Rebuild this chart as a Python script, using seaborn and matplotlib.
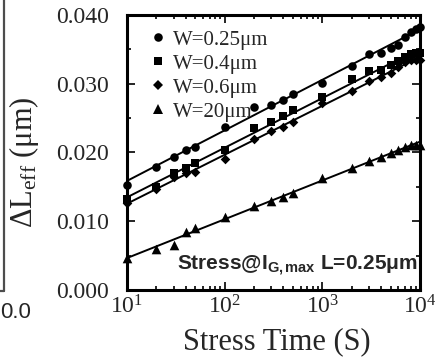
import pandas as pd
import matplotlib.pyplot as plt
import seaborn as sns
from matplotlib.lines import Line2D
from matplotlib.ticker import MultipleLocator, FormatStrFormatter, LogLocator

# Stress time (s) and measured Delta L_eff (um) for each gate width
stress_time = [10, 20, 30, 40, 50, 100, 200, 300, 400, 500,
               1000, 2000, 3000, 4000, 5000, 6000, 7000, 8000, 9000, 10000]
dl_w025 = [0.0153, 0.0179, 0.0194, 0.0204, 0.0208, 0.0237, 0.0266, 0.0269, 0.0276, 0.0285,
           0.0301, 0.0326, 0.0343, 0.0345, 0.0352, 0.0356, 0.0368, 0.0375, 0.0380, 0.0383]
dl_w04 = [0.0132, 0.0150, 0.0170, 0.0177, 0.0185, 0.0204, 0.0236, 0.0244, 0.0253, 0.0262,
          0.0281, 0.0307, 0.0319, 0.0320, 0.0327, 0.0333, 0.0339, 0.0343, 0.0345, 0.0345]
dl_w06 = [0.0127, 0.0147, 0.0164, 0.0170, 0.0172, 0.0190, 0.0220, 0.0231, 0.0237, 0.0244,
          0.0272, 0.0289, 0.0304, 0.0310, 0.0316, 0.0324, 0.0332, 0.0335, 0.0335, 0.0335]
dl_w20 = [0.0047, 0.0060, 0.0065, 0.0084, 0.0090, 0.0106, 0.0122, 0.0130, 0.0135, 0.0141,
          0.0163, 0.0177, 0.0188, 0.0193, 0.0199, 0.0204, 0.0208, 0.0211, 0.0211, 0.0211]

width_labels = ['W=0.25μm', 'W=0.4μm', 'W=0.6μm', 'W=20μm']
series = [dl_w025, dl_w04, dl_w06, dl_w20]
marker_styles = ['o', 's', 'D', '^']
marker_sizes = [38, 34, 24, 48]

sns.set_theme(style='ticks')
plt.rcParams['font.family'] = ['Liberation Serif', 'DejaVu Serif']
plt.rcParams['mathtext.fontset'] = 'custom'
plt.rcParams['mathtext.rm'] = 'Liberation Serif'
plt.rcParams['mathtext.it'] = 'Liberation Serif:italic'
plt.rcParams['mathtext.bf'] = 'Liberation Sans:bold'

fig = plt.figure(figsize=(4.48, 3.57), dpi=100)
ax = fig.add_axes([0.2835, 0.1877, 0.654, 0.7703])

handles = []
for label, values, m, s in zip(width_labels, series, marker_styles, marker_sizes):
    df = pd.DataFrame({'time': stress_time, 'dl': values})
    # straight fit of dL vs log(t)
    sns.regplot(x='time', y='dl', data=df, logx=True, ci=None, scatter=False,
                color='black', line_kws={'lw': 1.4}, ax=ax)
    sns.scatterplot(x='time', y='dl', data=df, marker=m, s=s, color='black',
                    edgecolor='black', linewidth=0, clip_on=False,
                    zorder=3, legend=False, ax=ax)
    handles.append(Line2D([], [], ls='', marker=m, color='black',
                          markersize=s ** 0.5, markeredgewidth=0, label=label))

ax.set_xscale('log')
ax.set_xlim(10, 10000)
ax.set_ylim(0, 0.040)
ax.yaxis.set_major_locator(MultipleLocator(0.010))
ax.yaxis.set_minor_locator(MultipleLocator(0.005))
ax.yaxis.set_major_formatter(FormatStrFormatter('%.3f'))
ax.xaxis.set_major_locator(LogLocator(base=10, numticks=10))
ax.xaxis.set_minor_locator(LogLocator(base=10, subs=range(2, 10), numticks=20))

ax.tick_params(which='both', direction='in', top=True, right=True,
               width=1.2, color='black')
ax.tick_params(which='major', length=6)
ax.tick_params(which='minor', length=3)
ax.tick_params(axis='y', labelsize=17, pad=13)
ax.tick_params(axis='x', labelsize=17, pad=4)
for spine in ax.spines.values():
    spine.set_linewidth(2.2)
    spine.set_color('black')

ax.set_xlabel('Stress Time (S)', fontsize=22)
ax.set_ylabel('ΔL$_{\\mathrm{eff}}$ (μm)', fontsize=22)
ax.xaxis.set_label_coords(0.512, -0.135)
ax.yaxis.set_label_coords(-0.295, 0.465)

ax.legend(handles=handles, loc='upper left', bbox_to_anchor=(0.085, 0.945),
          frameon=False, handlelength=0.6, handletextpad=0.4, labelspacing=0.21,
          borderpad=0, borderaxespad=0,
          prop={'family': 'Liberation Serif', 'size': 15})

ax.text(0.17, 0.073, 'Stress@I$_{\\mathbf{G,max}}$ L=0.25μm', transform=ax.transAxes,
        fontsize=15, fontweight='bold', family='Liberation Sans', va='baseline')

# edge of the neighbouring panel, cut off at the left border
fig.add_artist(Line2D([4 / 448, 4 / 448], [1.0, 1 - 291 / 357], color='0.3',
                      lw=1.6, transform=fig.transFigure))
fig.add_artist(Line2D([0, 4 / 448], [1 - 291 / 357, 1 - 291 / 357], color='0.3',
                      lw=1.6, transform=fig.transFigure))
fig.text(31 / 448, 1 - 313 / 357, '0.0', ha='right', va='center',
         family='Liberation Sans', fontsize=16)

fig.savefig('out.png', dpi=100)
